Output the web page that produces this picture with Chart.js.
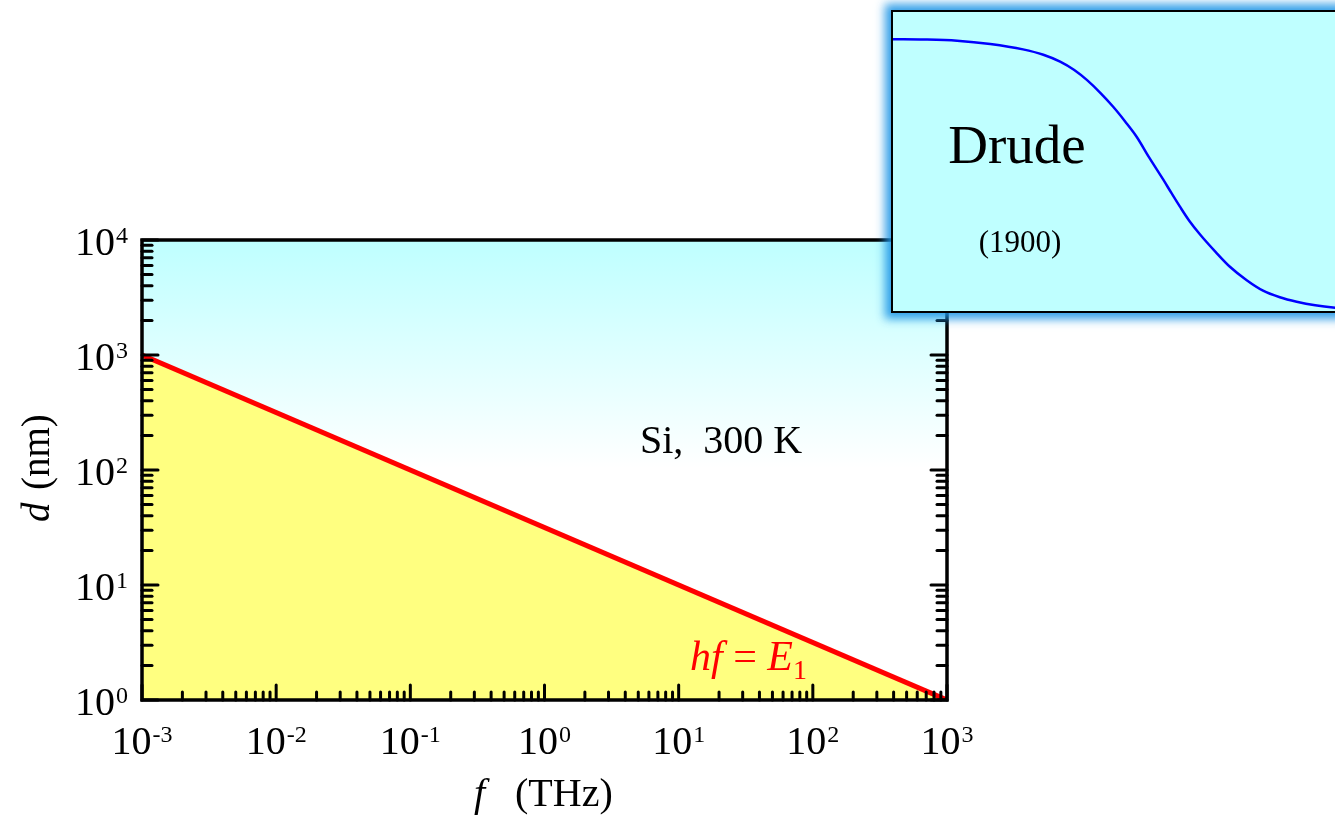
<!DOCTYPE html>
<html>
<head>
<meta charset="utf-8">
<script src="https://cdn.jsdelivr.net/npm/chart.js@4/dist/chart.umd.min.js"></script>
<style>
  html, body { margin: 0; padding: 0; background: #fff; overflow: hidden; width: 1335px; height: 816px; }
  #main { position: absolute; left: 0; top: 0; width: 1335px; height: 816px; }
  #inset {
    position: absolute; left: 891px; top: 10px; width: 470px; height: 303px;
    box-sizing: border-box; border: 2px solid #000; background: #bfffff;
    box-shadow: 0 0 9px 6px rgba(30, 150, 230, 0.9);
  }
</style>
</head>
<body>
<div id="main"><canvas id="c"></canvas></div>
<div id="inset"><canvas id="ci"></canvas></div>
<script>
// hf = E1 boundary for Si at 300 K: film thickness d (nm) versus frequency f (THz)
const freqTHz = [1e-3, 1e3];
const thicknessNm = [1000, 1];

// decade exponents for the tick marks and labels
const xDecades = [-3, -2, -1, 0, 1, 2, 3];
const yDecades = [0, 1, 2, 3, 4];
const minorSteps = [2, 3, 4, 5, 6, 7, 8, 9];

// Drude roll-off sketch in the inset (arbitrary units)
const drudeX = [0, 7, 14.5, 22, 29.4, 34, 37.8, 41, 43.9, 47, 49.8, 52.5, 55.1, 58, 61.1, 63, 64.9, 67, 69.5, 73, 76.2, 80, 83.7, 87.5, 91.3, 95.5, 100, 105];
const drudeY = [0.909, 0.908, 0.904, 0.893, 0.875, 0.857, 0.834, 0.806, 0.772, 0.728, 0.683, 0.634, 0.583, 0.512, 0.440, 0.394, 0.349, 0.302, 0.255, 0.197, 0.148, 0.103, 0.068, 0.046, 0.031, 0.019, 0.011, 0.006];

const SERIF = '"Liberation Serif", "Times New Roman", serif';

function drawPower(ctx, exp, x, baseline, align) {
  const big = '40px ' + SERIF, small = '24px ' + SERIF;
  ctx.font = big; const w1 = ctx.measureText('10').width;
  ctx.font = small; const sup = String(exp); const w2 = ctx.measureText(sup).width;
  const total = w1 + w2 + 1;
  const x0 = align === 'center' ? x - total / 2 : x - total;
  ctx.textAlign = 'left'; ctx.textBaseline = 'alphabetic';
  ctx.font = big; ctx.fillText('10', x0, baseline);
  ctx.font = small; ctx.fillText(sup, x0 + w1 + 1, baseline - 12);
}

const framePlugin = {
  id: 'frame',
  beforeDatasetsDraw(chart) {
    const { ctx, chartArea: a } = chart;
    ctx.save();
    const g = ctx.createLinearGradient(0, a.top, 0, a.top + 228);
    g.addColorStop(0, 'rgb(190,255,255)');
    g.addColorStop(1, 'rgb(255,255,255)');
    ctx.fillStyle = g;
    ctx.fillRect(a.left, a.top, a.right - a.left, a.bottom - a.top);
    ctx.restore();
  },
  afterDatasetsDraw(chart) {
    const { ctx, chartArea: a } = chart;
    const xs = chart.scales.x, ys = chart.scales.y;
    ctx.save();
    ctx.strokeStyle = '#000';
    ctx.lineWidth = 3;
    ctx.lineCap = 'round';
    // tick marks pointing inward: bottom, left and right
    const tick = (x1, y1, x2, y2) => { ctx.beginPath(); ctx.moveTo(x1, y1); ctx.lineTo(x2, y2); ctx.stroke(); };
    xDecades.forEach((d, i) => {
      const p = xs.getPixelForValue(Math.pow(10, d));
      tick(p, a.bottom, p, a.bottom - 15);
      if (i < xDecades.length - 1) minorSteps.forEach(m => {
        const q = xs.getPixelForValue(m * Math.pow(10, d));
        tick(q, a.bottom, q, a.bottom - 8);
      });
    });
    yDecades.forEach((d, i) => {
      const p = ys.getPixelForValue(Math.pow(10, d));
      tick(a.left, p, a.left + 16, p);
      tick(a.right, p, a.right - 16, p);
      if (i < yDecades.length - 1) minorSteps.forEach(m => {
        const q = ys.getPixelForValue(m * Math.pow(10, d));
        tick(a.left, q, a.left + 10, q);
        tick(a.right, q, a.right - 10, q);
      });
    });
    ctx.lineCap = 'butt';
    ctx.lineWidth = 3.5;
    ctx.strokeRect(a.left, a.top, a.right - a.left, a.bottom - a.top);

    // tick labels
    ctx.fillStyle = '#000';
    xDecades.forEach(d => drawPower(ctx, d, xs.getPixelForValue(Math.pow(10, d)), 754, 'center'));
    yDecades.forEach(d => drawPower(ctx, d, 128, ys.getPixelForValue(Math.pow(10, d)) + 15, 'right'));

    // axis titles
    ctx.textAlign = 'left'; ctx.textBaseline = 'alphabetic';
    ctx.font = 'italic 40px ' + SERIF; ctx.fillText('f', 474, 806);
    ctx.font = '40px ' + SERIF; ctx.fillText('(THz)', 515, 806);
    ctx.save();
    ctx.translate(49, 522); ctx.rotate(-Math.PI / 2);
    ctx.font = 'italic 39px ' + SERIF; ctx.fillText('d', 0, 0);
    ctx.font = '39px ' + SERIF; ctx.fillText('(nm)', 32, 0);
    ctx.restore();

    // annotations
    ctx.font = '40px ' + SERIF; ctx.fillText('Si,  300 K', 640, 453);
    ctx.fillStyle = '#ff0000';
    let x = 690;
    ctx.font = 'italic 42px ' + SERIF; ctx.fillText('hf', x, 670); x += ctx.measureText('hf').width;
    ctx.font = '42px ' + SERIF; ctx.fillText(' = ', x, 670); x += ctx.measureText(' = ').width;
    ctx.font = 'italic 42px ' + SERIF; ctx.fillText('E', x, 670); x += ctx.measureText('E').width;
    ctx.font = '28px ' + SERIF; ctx.fillText('1', x, 679);
    ctx.restore();
  }
};

new Chart(document.getElementById('c'), {
  type: 'line',
  data: {
    datasets: [{
      data: freqTHz.map((f, i) => ({ x: f, y: thicknessNm[i] })),
      borderColor: '#ff0000',
      borderWidth: 5,
      backgroundColor: 'rgb(255,255,128)',
      fill: 'start',
      pointRadius: 0,
      tension: 0
    }]
  },
  options: {
    responsive: true,
    maintainAspectRatio: false,
    animation: false,
    events: [],
    layout: { padding: { left: 142, top: 240, right: 388, bottom: 116 } },
    plugins: { legend: { display: false }, tooltip: { enabled: false } },
    scales: {
      x: {
        type: 'logarithmic', min: 1e-3, max: 1e3,
        grid: { display: false }, border: { display: false }, ticks: { display: false },
        afterFit(s) { s.height = 0; }
      },
      y: {
        type: 'logarithmic', min: 1, max: 1e4,
        grid: { display: false }, border: { display: false }, ticks: { display: false },
        afterFit(s) { s.width = 0; }
      }
    }
  },
  plugins: [framePlugin]
});

const insetText = {
  id: 'insetText',
  afterDatasetsDraw(chart) {
    const ctx = chart.ctx;
    ctx.save();
    ctx.fillStyle = '#000';
    ctx.textAlign = 'center'; ctx.textBaseline = 'alphabetic';
    ctx.font = '55px ' + SERIF; ctx.fillText('Drude', 124, 151);
    ctx.font = '31px ' + SERIF; ctx.fillText('(1900)', 127, 240);
    ctx.restore();
  }
};

new Chart(document.getElementById('ci'), {
  type: 'line',
  data: {
    datasets: [{
      data: drudeX.map((x, i) => ({ x, y: drudeY[i] })),
      borderColor: '#0000ff',
      borderWidth: 2.5,
      pointRadius: 0,
      cubicInterpolationMode: 'monotone',
      fill: false
    }]
  },
  options: {
    responsive: true,
    maintainAspectRatio: false,
    animation: false,
    events: [],
    layout: { padding: 0 },
    plugins: { legend: { display: false }, tooltip: { enabled: false } },
    scales: {
      x: { type: 'linear', display: false, min: 0, max: 105.4 },
      y: { type: 'linear', display: false, min: 0, max: 1 }
    }
  },
  plugins: [insetText]
});
</script>
</body>
</html>
